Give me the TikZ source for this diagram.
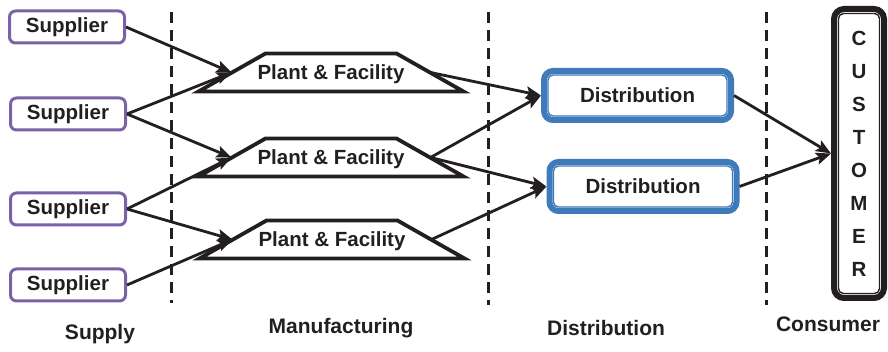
\documentclass[tikz,border=0pt]{standalone}
\usepackage{fontspec}
\setmainfont{Liberation Sans}
\usetikzlibrary{arrows.meta,calc}
\definecolor{supplierpurple}{HTML}{7A62A8}
\definecolor{distblue}{HTML}{3F7BBA}
\definecolor{ink}{HTML}{231F20}

\begin{document}
\begin{tikzpicture}[x=1pt,y=-1pt,
  every node/.style={text=ink},
  label/.style={font=\bfseries\fontsize{20.5}{24}\selectfont},
  supplierbox/.style={label, draw=supplierpurple, line width=3pt, rounded corners=6pt,
    minimum width=115pt, minimum height=32pt, inner sep=0pt},
  plant/.style={label, minimum width=265pt, minimum height=38pt, inner sep=0pt, outer sep=0pt,
    text depth=0pt},
  plantedge/.style={draw=ink, line width=3.8pt, miter limit=10},
  distbox/.style={label, draw=distblue, line width=6pt, rounded corners=9pt,
    minimum width=187pt, minimum height=49pt, inner sep=0pt},
  innerline/.style={distblue, line width=1.4pt, rounded corners=5pt},
  custbox/.style={draw=ink, line width=6pt, rounded corners=10pt,
    minimum width=50pt, minimum height=289pt, inner sep=0pt, align=center,
    font=\bfseries\fontsize{20.5}{33}\selectfont},
  flow/.style={draw=ink, line width=2.8pt, -{Stealth[length=15pt,width=12pt,inset=3pt]}},
  divider/.style={draw=ink, line width=3pt, dash pattern=on 11pt off 7pt},
  stage/.style={font=\bfseries\fontsize{21}{25}\selectfont}]

\useasboundingbox (0,0) rectangle (888,352);

% stage dividers
\draw[divider] (171,12) -- (171,303);
\draw[divider] (488,12) -- (488,305);
\draw[divider] (766,12) -- (766,305);

% suppliers
\node[supplierbox] (s1) at (67,27)  {Supplier};
\node[supplierbox] (s2) at (68,114) {Supplier};
\node[supplierbox] (s3) at (68,209) {Supplier};
\node[supplierbox] (s4) at (68,285) {Supplier};

% plants: text node with a trapezoid outline around it
\node[plant] (p1) at (331,72.5)  {Plant \& Facility};
\node[plant] (p2) at (331,157.5) {Plant \& Facility};
\node[plant] (p3) at (332,239.5) {Plant \& Facility};
\foreach \p in {p1,p2,p3}
  \draw[plantedge] (\p.south west) -- ($(\p.north west)+(67,0)$)
    -- ($(\p.north east)+(-67,0)$) -- (\p.south east) -- cycle;

% distribution centres (double blue frame)
\node[distbox] (d1) at (637.5,95.5) {Distribution};
\node[distbox] (d2) at (643,186.5)  {Distribution};
\foreach \d in {d1,d2}
  \draw[innerline] ($(\d.north west)+(7,7)$) rectangle ($(\d.south east)+(-7,-7)$);

% customer column
\node[custbox] (cust) at (859,153.5) {C\\U\\S\\T\\O\\M\\E\\R};
\draw[ink, line width=1.4pt, rounded corners=5pt]
  ($(cust.north west)+(7.5,7.5)$) rectangle ($(cust.south east)+(-7.5,-7.5)$);

% flows
\draw[flow] (s1.east) -- ($(p1.west)+(33,0)$);
\draw[flow] (s2.east) -- ($(p1.west)+(33,0)$);
\draw[flow] (s2.east) -- ($(p2.west)+(33,0)$);
\draw[flow] (s3.east) -- ($(p2.west)+(33,0)$);
\draw[flow] (s3.east) -- ($(p3.west)+(33,0)$);
\draw[flow] (s4.east) -- ($(p3.west)+(33,0)$);

\draw[flow] ($(p1.east)+(-33,0)$) -- (d1.west);
\draw[flow] ($(p2.east)+(-33,0)$) -- (d1.west);
\draw[flow] ($(p2.east)+(-33,0)$) -- (d2.west);
\draw[flow] ($(p3.east)+(-33,0)$) -- (d2.west);

\draw[flow] (d1.east) -- (cust.west);
\draw[flow] (d2.east) -- (cust.west);

% stage labels
\node[stage] (lsupply)  at (100,334) {Supply};
\node[stage] (lmanu)    at (341,328) {Manufacturing};
\node[stage] (ldist)    at (606,328) {Distribution};
\node[stage] (lcons)    at (828,324) {Consumer};
\end{tikzpicture}
\end{document}
